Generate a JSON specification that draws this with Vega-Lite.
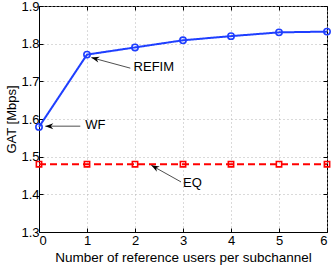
{
  "$schema": "https://vega.github.io/schema/vega-lite/v6.json",
  "width": 288,
  "height": 226,
  "autosize": "none",
  "padding": {"left": 39, "top": 6, "right": 5, "bottom": 33},
  "background": "white",
  "config": {
    "font": "Liberation Sans",
    "view": {"stroke": "black", "strokeWidth": 1},
    "axis": {
      "domainColor": "black",
      "tickColor": "black",
      "labelColor": "black",
      "labelFont": "Liberation Sans",
      "labelFontSize": 13,
      "titleFont": "Liberation Sans",
      "titleFontSize": 13,
      "titleFontWeight": "normal",
      "titleColor": "black",
      "gridColor": "#b4b4b4",
      "gridDash": [1, 3],
      "gridWidth": 1
    }
  },
  "datasets": {
    "main": [
      {"s": "REFIM", "x": 0, "y": 1.579},
      {"s": "REFIM", "x": 1, "y": 1.771},
      {"s": "REFIM", "x": 2, "y": 1.79},
      {"s": "REFIM", "x": 3, "y": 1.809},
      {"s": "REFIM", "x": 4, "y": 1.82},
      {"s": "REFIM", "x": 5, "y": 1.83},
      {"s": "REFIM", "x": 6, "y": 1.832},
      {"s": "EQ", "x": 0, "y": 1.48},
      {"s": "EQ", "x": 1, "y": 1.48},
      {"s": "EQ", "x": 2, "y": 1.48},
      {"s": "EQ", "x": 3, "y": 1.48},
      {"s": "EQ", "x": 4, "y": 1.48},
      {"s": "EQ", "x": 5, "y": 1.48},
      {"s": "EQ", "x": 6, "y": 1.48}
    ],
    "notes": [
      {"label": "WF", "x": 0.965, "y": 1.583, "x_tail": 0.86, "y_tail": 1.581, "x_tip": 0.131, "y_tip": 1.581},
      {"label": "REFIM", "x": 1.971, "y": 1.737, "x_tail": 1.902, "y_tail": 1.735, "x_tip": 1.09, "y_tip": 1.763},
      {"label": "EQ", "x": 3.0, "y": 1.431, "x_tail": 2.958, "y_tail": 1.433, "x_tip": 2.34, "y_tip": 1.477}
    ]
  },
  "resolve": {"axis": {"x": "independent", "y": "independent"}},
  "layer": [
    {
      "data": {"name": "main"},
      "mark": {"type": "line", "strokeWidth": 2},
      "encoding": {
        "x": {
          "field": "x", "type": "quantitative",
          "scale": {"domain": [0, 6], "nice": false},
          "axis": {
            "orient": "bottom", "values": [0, 1, 2, 3, 4, 5, 6], "grid": true,
            "tickSize": -4, "labelPadding": 6, "titlePadding": 3, "titleFontSize": 13.5,
            "title": "Number of reference users per subchannel"
          }
        },
        "y": {
          "field": "y", "type": "quantitative",
          "scale": {"domain": [1.3, 1.9], "nice": false, "zero": false},
          "axis": {
            "orient": "left", "values": [1.3, 1.4, 1.5, 1.6, 1.7, 1.8, 1.9], "format": ".1f", "grid": true,
            "tickSize": -4, "labelPadding": 4, "titlePadding": 2,
            "title": "GAT [Mbps]"
          }
        },
        "color": {"field": "s", "type": "nominal", "scale": {"domain": ["REFIM", "EQ"], "range": ["#1f3fff", "#ff0000"]}, "legend": null},
        "strokeDash": {"field": "s", "type": "nominal", "scale": {"domain": ["REFIM", "EQ"], "range": [[1, 0], [7, 4]]}, "legend": null}
      }
    },
    {
      "data": {"name": "main"},
      "mark": {"type": "point", "opacity": 0},
      "encoding": {
        "x": {"field": "x", "type": "quantitative",
          "axis": {"orient": "top", "values": [0, 1, 2, 3, 4, 5, 6], "labels": false, "domain": false, "grid": false, "tickSize": -4, "title": null}},
        "y": {"field": "y", "type": "quantitative",
          "axis": {"orient": "right", "values": [1.3, 1.4, 1.5, 1.6, 1.7, 1.8, 1.9], "labels": false, "domain": false, "grid": false, "tickSize": -4, "title": null}}
      }
    },
    {
      "data": {"name": "notes"},
      "mark": {"type": "rule", "color": "#222222", "strokeWidth": 0.8},
      "encoding": {
        "x": {"field": "x_tail", "type": "quantitative", "axis": null},
        "y": {"field": "y_tail", "type": "quantitative", "axis": null},
        "x2": {"field": "x_tip"},
        "y2": {"field": "y_tip"}
      }
    },
    {
      "data": {"name": "notes"},
      "transform": [{"filter": "datum.label === 'WF'"}],
      "mark": {"type": "point", "shape": "M0,0L-0.6,1.6L0,1.1L0.6,1.6Z", "size": 100, "angle": 270, "filled": true, "color": "black", "opacity": 1},
      "encoding": {
        "x": {"field": "x_tip", "type": "quantitative", "axis": null},
        "y": {"field": "y_tip", "type": "quantitative", "axis": null}
      }
    },
    {
      "data": {"name": "notes"},
      "transform": [{"filter": "datum.label === 'REFIM'"}],
      "mark": {"type": "point", "shape": "M0,0L-0.6,1.6L0,1.1L0.6,1.6Z", "size": 100, "angle": 285, "filled": true, "color": "black", "opacity": 1},
      "encoding": {
        "x": {"field": "x_tip", "type": "quantitative", "axis": null},
        "y": {"field": "y_tip", "type": "quantitative", "axis": null}
      }
    },
    {
      "data": {"name": "notes"},
      "transform": [{"filter": "datum.label === 'EQ'"}],
      "mark": {"type": "point", "shape": "M0,0L-0.6,1.6L0,1.1L0.6,1.6Z", "size": 100, "angle": 299, "filled": true, "color": "black", "opacity": 1},
      "encoding": {
        "x": {"field": "x_tip", "type": "quantitative", "axis": null},
        "y": {"field": "y_tip", "type": "quantitative", "axis": null}
      }
    },
    {
      "data": {"name": "main"},
      "mark": {"type": "point", "filled": false, "strokeWidth": 1.6, "opacity": 1},
      "encoding": {
        "x": {"field": "x", "type": "quantitative", "axis": null},
        "y": {"field": "y", "type": "quantitative", "axis": null},
        "color": {"field": "s", "type": "nominal", "scale": {"domain": ["REFIM", "EQ"], "range": ["#1f3fff", "#ff0000"]}, "legend": null},
        "shape": {"field": "s", "type": "nominal", "scale": {"domain": ["REFIM", "EQ"], "range": ["circle", "square"]}, "legend": null},
        "size": {"field": "s", "type": "nominal", "scale": {"domain": ["REFIM", "EQ"], "range": [40, 28]}, "legend": null}
      }
    },
    {
      "data": {"name": "notes"},
      "mark": {"type": "text", "align": "left", "baseline": "middle", "fontSize": 13, "font": "Liberation Sans", "color": "black"},
      "encoding": {
        "x": {"field": "x", "type": "quantitative", "axis": null},
        "y": {"field": "y", "type": "quantitative", "axis": null},
        "text": {"field": "label"}
      }
    }
  ]
}
